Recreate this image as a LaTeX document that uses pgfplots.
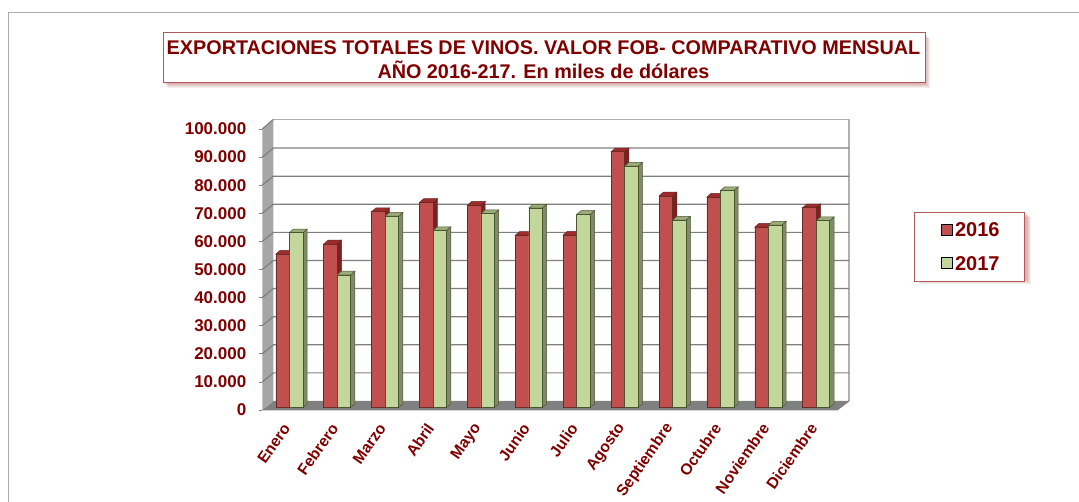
\documentclass[border=0pt]{standalone}
\usepackage{fontspec}
\setmainfont{Liberation Sans}
\usepackage{pgfplots}
\usepackage{pgfplotstable}
\pgfplotsset{compat=1.18}

\definecolor{labelred}{HTML}{800000}
\definecolor{boxline}{HTML}{B3595C}
\definecolor{wallside}{HTML}{A6A6A6}
\definecolor{floorgray}{HTML}{808080}
\definecolor{gridgray}{HTML}{7F7F7F}
\definecolor{backgray}{HTML}{B0B0B0}
\definecolor{framegray}{HTML}{ABABAB}
\definecolor{redfront}{HTML}{C0504D}
\definecolor{redtop}{HTML}{A02B2B}
\definecolor{redside}{HTML}{7A2222}
\definecolor{redline}{HTML}{6B2A28}
\definecolor{greenfront}{HTML}{C3D69B}
\definecolor{greentop}{HTML}{9CAB7C}
\definecolor{greenside}{HTML}{7F8C68}
\definecolor{greenline}{HTML}{4A5530}

\pgfplotstableread{
mes 2016 2017
0  54600 62200
1  58200 47200
2  69700 68100
3  73000 63000
4  72000 69000
5  61300 71000
6  61400 68700
7  91000 85900
8  75300 66700
9  74900 77200
10 64200 64900
11 71100 66500
}\datos

% top and side faces of one bar: index, column, left edge, top colour, side colour, line colour
\newcommand{\caras}[6]{%
  \pgfplotstablegetelem{#1}{#2}\of\datos
  \edef\val{\pgfplotsretval}%
  \pgfmathsetmacro{\xa}{#1+#3}%
  \pgfmathsetmacro{\xb}{#1+#3+0.2818}%
  \pgfmathsetmacro{\xc}{\xb+0.0898}%
  \pgfmathsetmacro{\xd}{\xa+0.0898}%
  \edef\tmp{\noexpand\addplot[fill=#5,draw=#6,line width=0.5pt,forget plot,yshift=2.5pt]
    coordinates {(\xb,0) (\xc,1317) (\xc,\the\numexpr\val+1317\relax) (\xb,\val)} --cycle;
    \noexpand\addplot[fill=#4,draw=#6,line width=0.5pt,forget plot,yshift=2.5pt]
    coordinates {(\xa,\val) (\xd,\the\numexpr\val+1317\relax) (\xc,\the\numexpr\val+1317\relax) (\xb,\val)} --cycle;}%
  \tmp
}

\begin{document}
\begin{tikzpicture}[x=1pt,y=1pt]
\path[use as bounding box] (0,0) rectangle (1079,502);
\draw[framegray,line width=1pt] (8.5,0) -- (8.5,489.5) -- (1079,489.5);

% soft shadows of the two boxes
\foreach \s in {1,2,3,4,5}{
  \fill[labelred,opacity=0.07] (163+\s,419-\s) rectangle (925+\s,469-\s);
  \fill[labelred,opacity=0.07] (914.5+\s,222.5-\s) rectangle (1026+\s,289.5-\s);
}

\begin{axis}[
    at={(262.3pt,92pt)}, anchor=south west,
    scale only axis,
    width=574.8pt, height=281pt,
    xmin=-0.5, xmax=11.5,
    ymin=0, ymax=100000,
    clip=false,
    axis line style={draw=none},
    tick pos=left,
    tick align=outside,
    ytick={0,10000,20000,30000,40000,50000,60000,70000,80000,90000,100000},
    xtick={0,...,11},
    xticklabels={Enero,Febrero,Marzo,Abril,Mayo,Junio,Julio,Agosto,Septiembre,Octubre,Noviembre,Diciembre},
    xtick style={draw=none},
    extra x ticks={-0.5,0.5,1.5,2.5,3.5,4.5,5.5,6.5,7.5,8.5,9.5,10.5,11.5},
    extra x tick labels={},
    extra x tick style={tick style={draw=gray,line width=0.6pt},major tick length=4pt},
    ytick style={draw=gray,line width=0.6pt},
    major tick length=3.5pt,
    scaled y ticks=false,
    /pgf/number format/.cd, fixed, precision=0, 1000 sep={.}, assume math mode=true,
    /pgfplots/.cd,
    yticklabel style={font=\bfseries\fontsize{17}{17}\selectfont,text=labelred,xshift=-9pt},
    xticklabel style={font=\bfseries\fontsize{15.7}{15.7}\selectfont,text=labelred,rotate=55,anchor=east,xshift=-6pt,yshift=-7pt},
    legend style={
      at={(1.1343,0.7036)}, anchor=north west,
      draw=boxline, line width=1pt, fill=white,
      font=\bfseries\fontsize{20}{20}\selectfont, text=labelred,
      inner xsep=0pt, inner ysep=8pt, row sep=14pt,
      /tikz/every even column/.append style={column sep=0pt},
    },
    legend cell align=left,
]
% walls and floor
\addplot[fill=floorgray,draw=none,forget plot] coordinates {(-0.5,0) (11.5,0) (11.75,3203) (-0.27,3203)} --cycle;
\addplot[fill=wallside,draw=none,forget plot] coordinates {(-0.5,0) (-0.27,3203) (-0.27,103400) (-0.5,100000)} --cycle;
\addplot[draw=backgray,line width=1.2pt,forget plot] coordinates {(-0.27,103400) (11.75,103400) (11.75,3203)};
\pgfplotsinvokeforeach{10000,20000,30000,40000,50000,60000,70000,80000,90000}{
  \addplot[draw=gridgray,line width=1.2pt,forget plot] coordinates {(-0.5,#1) (-0.27,\the\numexpr#1+3203\relax) (11.75,\the\numexpr#1+3203\relax)};
}
\addplot[draw=gridgray,line width=1.2pt,forget plot] coordinates {(-0.5,100000) (-0.27,103400)};
\addplot[draw=gridgray,line width=1pt,forget plot] coordinates {(-0.5,0) (11.5,0) (11.75,3203)};

% 2016
\pgfplotsinvokeforeach{0,...,11}{\caras{#1}{2016}{-0.2182}{redtop}{redside}{redline}}
\addplot[ybar,bar width=13.5pt,bar shift=-3.7pt,fill=redfront,draw=redline,line width=0.6pt,yshift=2.5pt,
  legend image code/.code={\path (0pt,0pt); \draw[fill=redfront,draw=black,line width=1pt] (26.5pt,-7.5pt) rectangle (37.5pt,3.5pt);}]
  table[x=mes,y=2016] {\datos};
\addlegendentry{2016\rule{22.5pt}{0pt}}

% 2017
\pgfplotsinvokeforeach{0,...,11}{\caras{#1}{2017}{0.0636}{greentop}{greenside}{greenline}}
\addplot[ybar,bar width=13.5pt,bar shift=9.8pt,fill=greenfront,draw=greenline,line width=0.6pt,yshift=2.5pt,
  legend image code/.code={\path (0pt,0pt); \draw[fill=greenfront,draw=black,line width=1pt] (26.5pt,-7.5pt) rectangle (37.5pt,3.5pt);}]
  table[x=mes,y=2017] {\datos};
\addlegendentry{2017\rule{22.5pt}{0pt}}
\end{axis}

\node[draw=boxline,line width=1pt,fill=white,minimum width=762pt,minimum height=50pt,inner sep=0pt] at (544,444) {};
\node[align=center,text=labelred,font=\bfseries\fontsize{19.8}{24}\selectfont,inner sep=0pt] at (543.5,442.5)
  {EXPORTACIONES TOTALES DE VINOS. VALOR FOB- COMPARATIVO MENSUAL\\AÑO 2016-217. En miles de dólares};
\end{tikzpicture}
\end{document}
